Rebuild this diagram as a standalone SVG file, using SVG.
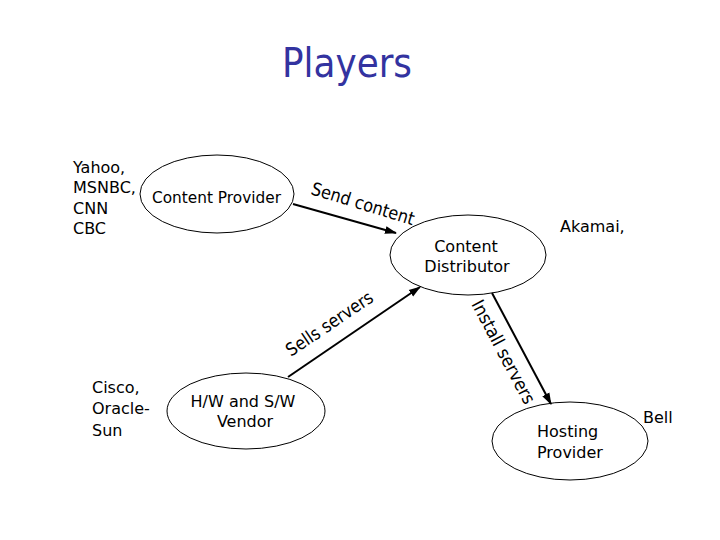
<svg xmlns="http://www.w3.org/2000/svg" width="720" height="540" viewBox="0 0 720 540">
<style>
.t{font-family:"DejaVu Sans",Verdana,sans-serif;font-size:16px;fill:#000}
.c{text-anchor:middle}
.n{fill:none;stroke:#000;stroke-width:1}
.e{stroke:#000;stroke-width:2;fill:none;marker-end:url(#ah)}
.lbl{font-size:18px}
.title{font-family:"DejaVu Sans",sans-serif;font-size:40px;fill:#3333a0}
</style>
<defs>
<marker id="ah" markerWidth="12" markerHeight="10" refX="11" refY="5" orient="auto" markerUnits="userSpaceOnUse">
<path d="M0,1 L12,5 L0,9 Z" fill="#000"/>
</marker>
</defs>
<rect width="720" height="540" fill="#fff"/>
<text class="title" x="282" y="77" textLength="130" lengthAdjust="spacingAndGlyphs">Players</text>
<g id="labels-left">
<text class="t" x="73" y="173">Yahoo,</text>
<text class="t" x="73" y="193">MSNBC,</text>
<text class="t" x="73" y="214">CNN</text>
<text class="t" x="73" y="234">CBC</text>
</g>
<g id="provider">
<ellipse class="n" cx="217" cy="194" rx="77" ry="39"/>
<text class="t" x="152" y="203" textLength="129" lengthAdjust="spacingAndGlyphs">Content Provider</text>
</g>
<g id="distributor">
<ellipse class="n" cx="468" cy="255" rx="78" ry="40"/>
<text class="t c" x="466" y="252">Content</text>
<text class="t c" x="467" y="272">Distributor</text>
</g>
<g id="akamai"><text class="t" x="560" y="232">Akamai,</text></g>
<g id="cisco">
<text class="t" x="92" y="393">Cisco,</text>
<text class="t" x="92" y="414">Oracle-</text>
<text class="t" x="92" y="436">Sun</text>
</g>
<g id="vendor">
<ellipse class="n" cx="246" cy="411" rx="79" ry="38"/>
<text class="t c" x="243" y="407">H/W and S/W</text>
<text class="t c" x="245" y="427">Vendor</text>
</g>
<g id="hosting">
<ellipse class="n" cx="570" cy="441" rx="78" ry="39"/>
<text class="t" x="537" y="437">Hosting</text>
<text class="t" x="537" y="458">Provider</text>
</g>
<g id="bell"><text class="t" x="643" y="423">Bell</text></g>
<g id="connectors">
<line class="e" x1="293" y1="204" x2="396" y2="233"/>
<line class="e" x1="288" y1="377" x2="420" y2="287"/>
<line class="e" x1="492" y1="293" x2="551" y2="404"/>
<text class="t lbl" x="310" y="194" transform="rotate(17 310 194)" textLength="107" lengthAdjust="spacingAndGlyphs">Send content</text>
<text class="t lbl" x="291" y="357" transform="rotate(-34 291 357)" textLength="101" lengthAdjust="spacingAndGlyphs">Sells servers</text>
<text class="t lbl" x="471" y="304" transform="rotate(62 471 304)" textLength="115" lengthAdjust="spacingAndGlyphs">Install servers</text>
</g>
</svg>
